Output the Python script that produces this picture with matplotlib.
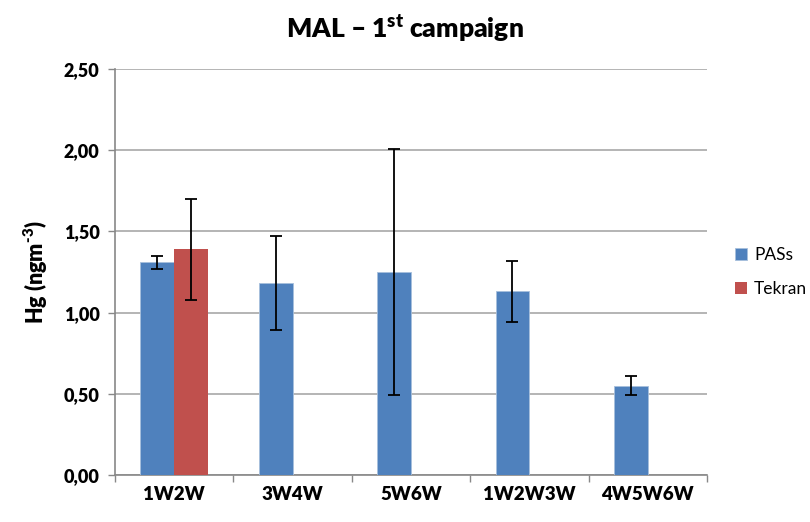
import numpy as np
import matplotlib
matplotlib.use("Agg")
import matplotlib.pyplot as plt

plt.rcParams['font.family'] = ['Lato', 'DejaVu Sans']
plt.rcParams['mathtext.fontset'] = 'custom'
plt.rcParams['mathtext.rm'] = 'Lato'
plt.rcParams['mathtext.bf'] = 'Lato:heavy'

categories = ['1W2W', '3W4W', '5W6W', '1W2W3W', '4W5W6W']
pass_vals = [1.31, 1.18, 1.25, 1.13, 0.55]
pass_err = [0.04, 0.29, 0.76, 0.19, 0.06]
tekran_vals = [1.39, np.nan, np.nan, np.nan, np.nan]
tekran_err = [0.31, np.nan, np.nan, np.nan, np.nan]
yticks = [0.0, 0.5, 1.0, 1.5, 2.0, 2.5]

blue = '#4F81BD'
red = '#C0504D'

fig = plt.figure(figsize=(8.1, 5.22), dpi=100)
ax = fig.add_axes([115/810, 1-475/522, 592/810, 406/522])

x = np.arange(len(categories))
w = 1/3.5
ekw = dict(ecolor='black', elinewidth=1.3, capsize=4, capthick=1.3)
ax.bar(x - w/2, pass_vals, w, color=blue, edgecolor='#a7bfdc', linewidth=0.6,
       yerr=pass_err, error_kw=ekw, label='PASs', zorder=3)
ax.bar(x + w/2, tekran_vals, w, color=red, linewidth=0,
       yerr=tekran_err, error_kw=ekw, label='Tekran', zorder=3)

ax.set_xlim(-0.5, len(categories) - 0.5)
ax.set_ylim(0, 2.5)
ax.set_yticks(yticks)
ax.set_yticklabels([('%.2f' % v).replace('.', ',') for v in yticks],
                   fontsize=13, fontweight='heavy')
ax.set_xticks(x)
ax.set_xticklabels(categories, fontsize=13.5, fontweight='heavy')
ax.set_xticks(np.arange(-0.5, len(categories)), minor=True)
ax.tick_params(axis='x', which='major', length=0, pad=8)
ax.tick_params(axis='x', which='minor', length=5, color='#888888', width=1)
ax.tick_params(axis='y', length=5, color='#888888', width=1, pad=6)

ax.grid(axis='y', color='#a0a0a0', linewidth=1.1, zorder=0)
ax.set_axisbelow(True)
for s in ['top', 'right']:
    ax.spines[s].set_visible(False)
for s in ['left', 'bottom']:
    ax.spines[s].set_color('#888888')
    ax.spines[s].set_linewidth(1.2)

ax.set_ylabel('Hg (ngm$^{\\mathbf{\u2010}\\mathbf{3}}$)', fontsize=15.5, fontweight='heavy', labelpad=10)
fig.text(405/810, 1-28/522, r'MAL – 1$^{\mathbf{st}}$ campaign', ha='center', va='center',
         fontsize=19, fontweight='heavy')

ax.legend(loc='center left', bbox_to_anchor=(1.0, 0.5), frameon=False, fontsize=12.5,
          handlelength=0.7, handleheight=0.7, labelspacing=1.0, handletextpad=0.4,
          borderaxespad=1.2)

fig.savefig('out.png', dpi=100)
